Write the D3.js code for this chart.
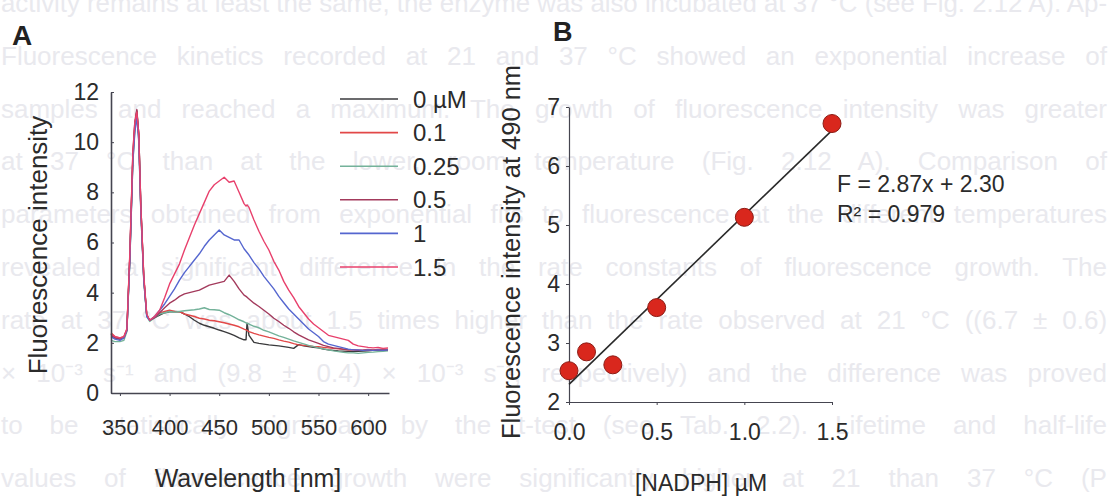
<!DOCTYPE html>
<html>
<head>
<meta charset="utf-8">
<script src="https://cdn.jsdelivr.net/npm/d3@7"></script>
<style>
  html, body { margin: 0; padding: 0; background: #ffffff; }
  svg { display: block; font-family: "Liberation Sans", Arial, sans-serif; }
  .axis path, .axis line { stroke: #454550; }
  .axis text { fill: #2b2b2b; font-family: "Liberation Sans", Arial, sans-serif; }
</style>
</head>
<body>
<svg id="fig" width="1111" height="497"></svg>
<script>
// ---- Panel A: emission spectra (wavelength in nm, fluorescence intensity) ----
const wavelengths = [
  341, 345, 350, 354, 357, 360, 363, 365, 367, 369, 371, 374, 377, 380,
  385, 390, 395, 400, 405, 410, 415, 420, 425, 430, 435, 440, 445, 450, 455, 460, 465, 470, 475,
  477, 478, 480,
  485, 490, 495, 500, 505, 510, 515, 520, 525, 530, 535, 540, 545, 550, 555, 560, 565, 570, 575,
  580, 585, 590, 595, 600, 605, 610, 615, 620
];

const concentrationLabels = ["0 µM", "0.1", "0.25", "0.5", "1", "1.5"];
const seriesColors = ["#3a3a3c", "#e24848", "#74b29a", "#a33a5c", "#5566cf", "#e8406c"];

const spectrum0 = [
  2.35, 2.2, 2.15, 2.2, 2.5, 5.4, 9.4, 10.7, 11.25, 10.3, 7.5, 4.6, 3.1, 2.9,
  3.0, 3.1, 3.2, 3.24, 3.25, 3.24, 3.15, 3.04, 2.9, 2.78, 2.7, 2.64, 2.58, 2.51, 2.45, 2.38, 2.3, 2.2, 2.12,
  2.12, 2.78, 2.3,
  2.02, 1.98, 1.95, 1.92, 1.9, 1.88, 1.85, 1.82, 1.78, 1.93, 1.88, 1.85, 1.82, 1.8, 1.75, 1.72, 1.7, 1.68, 1.67,
  1.66, 1.65, 1.66, 1.67, 1.68, 1.7, 1.7, 1.72, 1.71
];
const spectrum01 = [
  2.4, 2.25, 2.2, 2.25, 2.55, 5.5, 9.3, 10.6, 11.2, 10.2, 7.4, 4.6, 3.1, 2.9,
  3.05, 3.18, 3.25, 3.3, 3.25, 3.24, 3.15, 3.1, 3.05, 2.98, 2.95, 2.9, 2.88, 2.84, 2.8, 2.75, 2.7, 2.64, 2.55,
  2.52, 2.5, 2.45,
  2.38, 2.32, 2.27, 2.22, 2.18, 2.12, 2.07, 2.03, 1.97, 1.92, 1.9, 1.88, 1.86, 1.85, 1.82, 1.8, 1.78, 1.76, 1.74,
  1.72, 1.72, 1.71, 1.72, 1.74, 1.72, 1.74, 1.76, 1.75
];
const spectrum025 = [
  2.1, 2.05, 2.05, 2.1, 2.45, 5.3, 9.2, 10.5, 11.1, 10.1, 7.3, 4.5, 3.05, 2.85,
  3.0, 3.15, 3.2, 3.25, 3.22, 3.25, 3.28, 3.3, 3.32, 3.35, 3.4, 3.33, 3.32, 3.3, 3.2, 3.12, 3.02, 2.92, 2.84,
  2.8, 2.78, 2.75,
  2.66, 2.6, 2.5, 2.44, 2.36, 2.28, 2.22, 2.15, 2.08, 2.02, 1.96, 1.9, 1.85, 1.8, 1.76, 1.72, 1.68, 1.65, 1.62,
  1.6, 1.6, 1.58, 1.6, 1.62, 1.63, 1.65, 1.66, 1.68
];
const spectrum05 = [
  2.3, 2.2, 2.15, 2.2, 2.5, 5.5, 9.5, 10.8, 11.3, 10.3, 7.5, 4.6, 3.1, 2.9,
  3.0, 3.2, 3.4, 3.58, 3.7, 3.85, 3.95, 4.0, 4.05, 4.1, 4.2, 4.3, 4.35, 4.4, 4.45, 4.7, 4.45, 4.15, 3.9,
  3.85, 3.82, 3.75,
  3.58, 3.45, 3.3, 3.15, 2.98, 2.85, 2.7, 2.58, 2.44, 2.32, 2.22, 2.12, 2.05, 1.98, 1.9, 1.85, 1.8, 1.78, 1.75,
  1.72, 1.72, 1.7, 1.7, 1.71, 1.7, 1.72, 1.71, 1.72
];
const spectrum1 = [
  2.25, 2.15, 2.1, 2.2, 2.5, 5.3, 9.2, 10.4, 11.0, 10.0, 7.3, 4.5, 3.05, 2.9,
  3.05, 3.3, 3.55, 3.85, 4.15, 4.5, 4.8, 5.05, 5.3, 5.55, 5.85, 6.1, 6.3, 6.5, 6.3, 6.2, 6.1, 6.1, 5.75,
  5.65, 5.6, 5.5,
  5.2, 4.95, 4.65, 4.4, 4.15, 3.85, 3.6, 3.35, 3.15, 2.95, 2.75, 2.55, 2.4, 2.25, 2.05, 1.95, 1.9, 1.85, 1.8,
  1.75, 1.72, 1.72, 1.7, 1.72, 1.7, 1.72, 1.7, 1.72
];
const spectrum15 = [
  2.35, 2.25, 2.2, 2.25, 2.55, 5.6, 9.6, 10.8, 11.2, 10.3, 7.5, 4.7, 3.15, 2.9,
  3.05, 3.3, 3.8, 4.35, 4.75, 5.15, 5.7, 6.2, 6.7, 7.15, 7.6, 8.05, 8.3, 8.45, 8.6, 8.4, 8.45, 8.0, 7.55,
  7.45, 7.5, 7.4,
  6.9, 6.45, 6.05, 5.7, 5.25, 4.9, 4.45, 4.1, 3.8, 3.45, 3.2, 2.95, 2.75, 2.6, 2.45, 2.3, 2.25, 2.2, 2.15,
  2.1, 1.95, 1.88, 1.85, 1.82, 1.8, 1.82, 1.78, 1.8
];
const spectra = [spectrum0, spectrum01, spectrum025, spectrum05, spectrum1, spectrum15];

const ticksA_x = [350, 400, 450, 500, 550, 600];
const ticksA_y = [0, 2, 4, 6, 8, 10, 12];

// ---- Panel B: intensity at 490 nm versus NADPH concentration ----
const nadph = [0, 0.1, 0.25, 0.5, 1.0, 1.5];
const intensity490 = [2.53, 2.85, 2.63, 3.6, 5.13, 6.72];
const fitSlope = 2.87;
const fitIntercept = 2.30;
const fitR2 = 0.979;
const ticksB_x = [0, 0.5, 1.0, 1.5];
const ticksB_y = [2, 3, 4, 5, 6, 7];

// ---- Page text running behind the figure ----
const pageLines = [
  "activity remains at least the same, the enzyme was also incubated at 37 °C (see Fig. 2.12 A). Ap-",
  "Fluorescence kinetics recorded at 21 and 37 °C showed an exponential increase of",
  "samples and reached a maximum. The growth of fluorescence intensity was greater",
  "at 37 °C than at the lower, room temperature (Fig. 2.12 A). Comparison of",
  "parameters obtained from exponential fits to fluorescence at the different temperatures",
  "revealed a significant difference in the rate constants of fluorescence growth. The",
  "rate at 37 °C was about 1.5 times higher than the rate observed at 21 °C ((6.7 ± 0.6)",
  "× 10⁻³ s⁻¹ and (9.8 ± 0.4) × 10⁻³ s⁻¹, respectively) and the difference was proved",
  "to be statistically significant by the t-test (see Tab. 2.2). Lifetime and half-life",
  "values of fluorescence growth were significantly higher at 21 than 37 °C (P"
];

const svg = d3.select("#fig");

// faint page text, justified to the full line width
const bg = svg.append("g").attr("fill", "#e9e9ee").attr("font-size", 26);
const lineWidth = 1106;
pageLines.forEach((t, i) => {
  const txt = bg.append("text")
    .attr("x", 1)
    .attr("y", 12 + i * 52.8)
    .text(t);
  const natural = txt.node().getComputedTextLength();
  const gaps = (t.match(/ /g) || []).length;
  if (natural > lineWidth) {
    txt.attr("textLength", lineWidth).attr("lengthAdjust", "spacingAndGlyphs");
  } else if (gaps > 0) {
    txt.attr("word-spacing", ((lineWidth - natural) / gaps).toFixed(2));
  }
});

// ================= Panel A =================
const xA = d3.scaleLinear().domain([341, 621]).range([111, 389]);
const yA = d3.scaleLinear().domain([0, 12]).range([393, 92]);

const gA = svg.append("g");

gA.append("text").attr("x", 12).attr("y", 45)
  .attr("font-size", 28).attr("font-weight", "bold").attr("fill", "#222").text("A");

const line = d3.line()
  .x((d, i) => xA(wavelengths[i]))
  .y(d => yA(d));

spectra.forEach((s, k) => {
  gA.append("path")
    .datum(s)
    .attr("d", line)
    .attr("fill", "none")
    .attr("stroke", seriesColors[k])
    .attr("stroke-width", 1.4)
    .attr("stroke-linejoin", "round");
});

gA.append("g").attr("class", "axis")
  .attr("transform", "translate(111,0)")
  .call(d3.axisLeft(yA).tickValues(ticksA_y).tickSizeInner(-3).tickSizeOuter(0).tickPadding(12))
  .call(g => g.selectAll("text").attr("font-size", 23))
  .call(g => g.select(".domain").attr("stroke-width", 1.6));

gA.append("g").attr("class", "axis")
  .attr("transform", "translate(0,393)")
  .call(d3.axisBottom(xA).tickValues(ticksA_x).tickSizeInner(3).tickSizeOuter(0).tickPadding(23))
  .call(g => g.selectAll("text").attr("font-size", 22))
  .call(g => g.select(".domain").attr("stroke-width", 1.4));

gA.append("text")
  .attr("transform", "translate(47,245) rotate(-90)")
  .attr("text-anchor", "middle").attr("font-size", 26).attr("fill", "#2b2b2b")
  .text("Fluorescence intensity");

gA.append("text")
  .attr("x", 248).attr("y", 487)
  .attr("text-anchor", "middle").attr("font-size", 25).attr("fill", "#2b2b2b")
  .text("Wavelength [nm]");

// legend
const legend = gA.append("g");
concentrationLabels.forEach((lab, k) => {
  const y = 99 + k * 33.6;
  legend.append("line")
    .attr("x1", 340).attr("x2", 398).attr("y1", y).attr("y2", y)
    .attr("stroke", seriesColors[k]).attr("stroke-width", 1.6);
  legend.append("text")
    .attr("x", 413).attr("y", y + 8.5)
    .attr("font-size", 24).attr("fill", "#2b2b2b")
    .text(lab);
});

// ================= Panel B =================
const xB = d3.scaleLinear().domain([0, 1.5]).range([569, 832]);
const yB = d3.scaleLinear().domain([2, 7]).range([402, 107]);

const gB = svg.append("g");

gB.append("text").attr("x", 553).attr("y", 41)
  .attr("font-size", 27).attr("font-weight", "bold").attr("fill", "#222").text("B");

gB.append("g").attr("class", "axis")
  .attr("transform", "translate(569,0)")
  .call(d3.axisLeft(yB).tickValues(ticksB_y).tickFormat(d3.format("d"))
    .tickSizeInner(3).tickSizeOuter(0).tickPadding(6))
  .call(g => g.selectAll("text").attr("font-size", 23))
  .call(g => g.select(".domain").attr("stroke-width", 1.2));

gB.append("g").attr("class", "axis")
  .attr("transform", "translate(0,402)")
  .call(d3.axisBottom(xB).tickValues(ticksB_x).tickFormat(d3.format(".1f"))
    .tickSizeInner(3).tickSizeOuter(0).tickPadding(19))
  .call(g => g.selectAll("text").attr("font-size", 23))
  .call(g => g.select(".domain").attr("stroke-width", 1.2));

// fitted line F = a x + b over the measured range
const xFit = d3.extent(nadph);
gB.append("line")
  .attr("x1", xB(xFit[0])).attr("y1", yB(fitSlope * xFit[0] + fitIntercept))
  .attr("x2", xB(xFit[1])).attr("y2", yB(fitSlope * xFit[1] + fitIntercept))
  .attr("stroke", "#2a2a2a").attr("stroke-width", 1.6);

gB.selectAll("circle.pt")
  .data(nadph.map((x, i) => [x, intensity490[i]]))
  .join("circle")
  .attr("class", "pt")
  .attr("cx", d => xB(d[0]))
  .attr("cy", d => yB(d[1]))
  .attr("r", 9)
  .attr("fill", "#d9271d")
  .attr("stroke", "#8c1b14")
  .attr("stroke-width", 1);

gB.append("text")
  .attr("x", 837).attr("y", 192)
  .attr("font-size", 23).attr("fill", "#2b2b2b")
  .text(`F = ${fitSlope.toFixed(2)}x + ${fitIntercept.toFixed(2)}`);
gB.append("text")
  .attr("x", 837).attr("y", 222)
  .attr("font-size", 23).attr("fill", "#2b2b2b")
  .text(`R² = ${fitR2.toFixed(3)}`);

gB.append("text")
  .attr("transform", "translate(520,252) rotate(-90)")
  .attr("text-anchor", "middle").attr("font-size", 25.5).attr("fill", "#2b2b2b")
  .text("Fluorescence intensity at 490 nm");

gB.append("text")
  .attr("x", 701).attr("y", 491)
  .attr("text-anchor", "middle").attr("font-size", 23).attr("fill", "#2b2b2b")
  .text("[NADPH] µM");
</script>
</body>
</html>
